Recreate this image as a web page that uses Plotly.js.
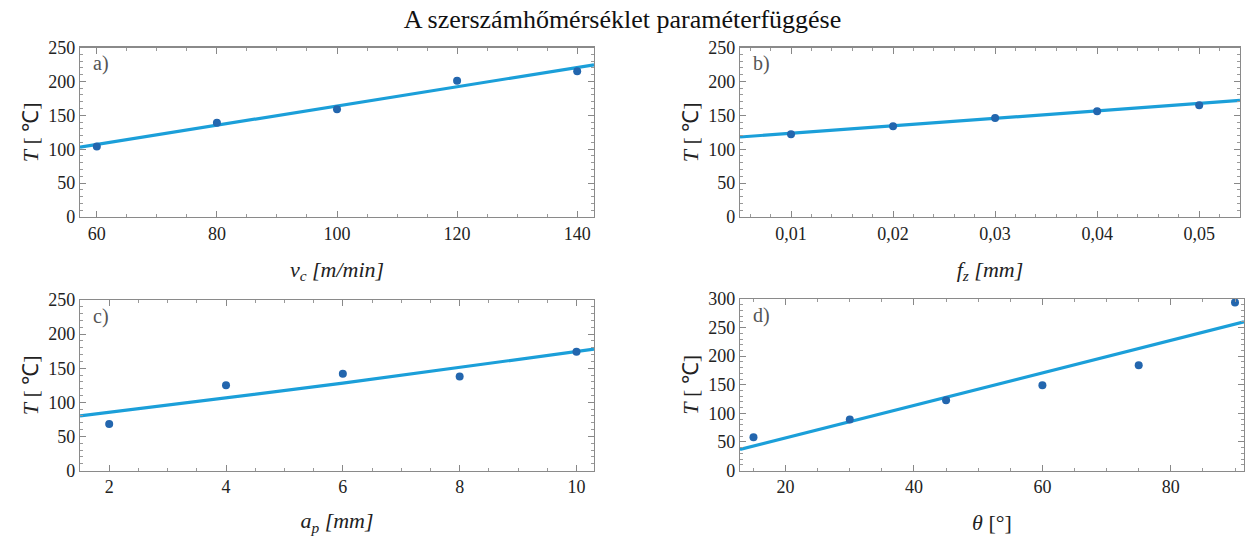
<!DOCTYPE html>
<html><head><meta charset="utf-8">
<script src="https://cdn.plot.ly/plotly-3.0.1.min.js"></script>
<style>html,body{margin:0;padding:0;background:#fff}#chart{width:1245px;height:536px}</style>
</head><body><div id="chart"></div>
<script>
// Data
const vc = [60, 80, 100, 120, 140];
const T_vc = [104, 139, 159, 201, 215];
const fitVcX = [57.2, 100, 142.8];
const fitVcY = [103, 164, 224.5];

const fz = [0.01, 0.02, 0.03, 0.04, 0.05];
const T_fz = [122, 134, 146, 156, 165];
const fitFzX = [0.005, 0.03, 0.054];
const fitFzY = [118, 145.5, 172];

const ap = [2, 4, 6, 8, 10];
const T_ap = [68, 125, 142, 138, 174];
const fitApX = [1.5, 6, 10.3];
const fitApY = [80, 128, 178];

const theta = [15, 30, 45, 60, 75, 90];
const T_th = [58, 89, 123, 149, 184, 294];
const fitThX = [12.9, 52, 91.4];
const fitThY = [37, 148, 260];

const xTitles = ['<i>v<sub>c</sub> [m/min]</i>', '<i>f<sub>z</sub> [mm]</i>', '<i>a<sub>p</sub> [mm]</i>', '<i>θ</i> [°]'];
const yTitle = '<i>T</i> [ ℃]';
const panelLabels = ['a)', 'b)', 'c)', 'd)'];

const lineColor = '#1b9fd9';
const dotColor = '#2366ae';
const W = 1245, H = 536;
const fontFam = 'Liberation Serif, Tinos, Times New Roman, serif';

function fitTrace(x, y, ax) {
  return {x, y, xaxis: 'x' + ax, yaxis: 'y' + ax, mode: 'lines', line: {color: lineColor, width: 3.2}, hoverinfo: 'skip', showlegend: false};
}
function dotTrace(x, y, ax) {
  return {x, y, xaxis: 'x' + ax, yaxis: 'y' + ax, mode: 'markers', marker: {color: dotColor, size: 8}, showlegend: false};
}

const ax = ['', '2', '3', '4'];
const data = [
  fitTrace(fitVcX, fitVcY, ax[0]), dotTrace(vc, T_vc, ax[0]),
  fitTrace(fitFzX, fitFzY, ax[1]), dotTrace(fz, T_fz, ax[1]),
  fitTrace(fitApX, fitApY, ax[2]), dotTrace(ap, T_ap, ax[2]),
  fitTrace(fitThX, fitThY, ax[3]), dotTrace(theta, T_th, ax[3])
];

// panel boxes in pixels [left, right, top, bottom]
const boxes = [[80, 594, 47.5, 217], [740, 1240, 47.5, 217], [80, 594, 300, 470.5], [740, 1244, 299, 470.5]];
const xr = [[57.2, 142.8], [0.005, 0.054], [1.5, 10.3], [12.9, 91.4]];
const xd = [[20, 5], [0.01, 0.002], [2, 0.5], [20, 5]];
const xt0 = [60, 0.01, 2, 20];
const yr = [[0, 250], [0, 250], [0, 250], [0, 300]];

const layout = {
  width: W, height: H,
  margin: {l: 0, r: 0, t: 0, b: 0},
  paper_bgcolor: '#fff', plot_bgcolor: '#fff',
  separators: ', ',
  font: {family: fontFam, size: 16, color: '#222'},
  title: {text: 'A szerszámhőmérséklet paraméterfüggése', x: 0.5, xanchor: 'center', y: 1 - 19 / H, yanchor: 'middle', yref: 'paper', font: {family: fontFam, size: 26, color: '#111'}},
  annotations: []
};

for (let i = 0; i < 4; i++) {
  const b = boxes[i];
  const xn = 'xaxis' + ax[i], yn = 'yaxis' + ax[i];
  layout[xn] = {
    domain: [b[0] / W, b[1] / W], range: xr[i], anchor: 'y' + ax[i],
    tick0: xt0[i], dtick: xd[i][0], ticks: 'inside', ticklen: 6, tickcolor: '#888', tickwidth: 1,
    minor: {dtick: xd[i][1], ticks: 'inside', ticklen: 3, tickcolor: '#999', showgrid: false},
    showline: true, linecolor: '#8a8a8a', linewidth: 1.2, mirror: 'allticks', showgrid: false, zeroline: false,
    tickfont: {family: fontFam, size: 18, color: '#222'},
    title: {text: xTitles[i], font: {family: fontFam, size: 22, color: '#222'}, standoff: 18}
  };
  layout[yn] = {
    domain: [1 - b[3] / H, 1 - b[2] / H], range: yr[i], anchor: 'x' + ax[i],
    dtick: 50, ticks: 'inside', ticklen: 6, tickcolor: '#888', tickwidth: 1,
    minor: {dtick: 10, ticks: 'inside', ticklen: 3, tickcolor: '#999', showgrid: false},
    showline: true, linecolor: '#8a8a8a', linewidth: 1.2, mirror: 'allticks', showgrid: false, zeroline: false,
    tickfont: {family: fontFam, size: 18, color: '#222'},
    title: {text: yTitle, font: {family: fontFam, size: 22, color: '#222'}, standoff: 3}
  };
  layout.annotations.push({
    text: panelLabels[i], xref: 'x' + ax[i] + ' domain', yref: 'y' + ax[i] + ' domain',
    x: 0.022, y: 0.985, xanchor: 'left', yanchor: 'top', showarrow: false,
    font: {family: fontFam, size: 20, color: '#555'}
  });
}

Plotly.newPlot('chart', data, layout, {displayModeBar: false, staticPlot: true});
</script></body></html>
